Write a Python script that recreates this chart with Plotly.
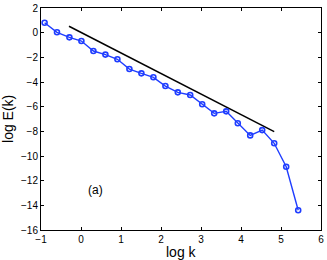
import plotly.graph_objects as go

log_k = [-0.91, -0.60, -0.29, 0.01, 0.31, 0.61, 0.91, 1.21, 1.51, 1.81, 2.11,
         2.42, 2.73, 3.03, 3.33, 3.63, 3.92, 4.23, 4.53, 4.83, 5.13, 5.43]
log_E = [0.81, 0.03, -0.38, -0.68, -1.49, -1.78, -2.16, -2.95, -3.30, -3.62, -4.33,
         -4.84, -5.05, -5.81, -6.54, -6.38, -7.35, -8.33, -7.90, -8.97, -10.87, -14.40]
ref_x = [-0.30, 4.83]
ref_y = [0.52, -8.02]

fig = go.Figure()
fig.add_trace(go.Scatter(x=ref_x, y=ref_y, mode="lines",
                         line=dict(color="black", width=1.5), showlegend=False))
fig.add_trace(go.Scatter(x=log_k, y=log_E, mode="lines+markers",
                         line=dict(color="#1f3dff", width=1.4),
                         marker=dict(symbol="circle-open", size=5, color="#1f3dff",
                                     line=dict(width=1.6)),
                         showlegend=False))
fig.add_annotation(x=0.37, y=-12.76, text="(a)", showarrow=False,
                   font=dict(size=12, color="black"))
fig.add_annotation(xref="paper", yref="paper", x=0.5, y=-0.097, yanchor="middle",
                   text="log k", showarrow=False, font=dict(size=14, color="black"))
fig.add_annotation(xref="paper", yref="paper", x=-0.118, y=0.5, xanchor="center",
                   yanchor="middle", text="log E(k)", textangle=-90, showarrow=False,
                   font=dict(size=14, color="black"))

axis_common = dict(showline=True, linecolor="black", linewidth=1, mirror="ticks",
                   ticks="inside", ticklen=3, tickcolor="black", showgrid=False,
                   zeroline=False, automargin=False, tickfont=dict(size=10, color="black"))
fig.update_xaxes(range=[-1, 6], dtick=1, ticklabeloverflow="allow", **axis_common)
fig.update_yaxes(range=[-16, 2], dtick=2, ticklabeloverflow="allow", **axis_common)
fig.update_layout(width=327, height=260, margin=dict(l=41, r=6, t=8, b=30),
                  paper_bgcolor="white", plot_bgcolor="white",
                  font=dict(family="Liberation Sans, Arial, sans-serif"))
fig.write_html("out.html", config={"displayModeBar": False})

with open("out.html", "r", encoding="utf-8") as f:
    html = f.read()
html = html.replace("<head>", "<head><style>html,body{margin:0;padding:0;overflow:hidden;}</style>", 1)
with open("out.html", "w", encoding="utf-8") as f:
    f.write(html)
